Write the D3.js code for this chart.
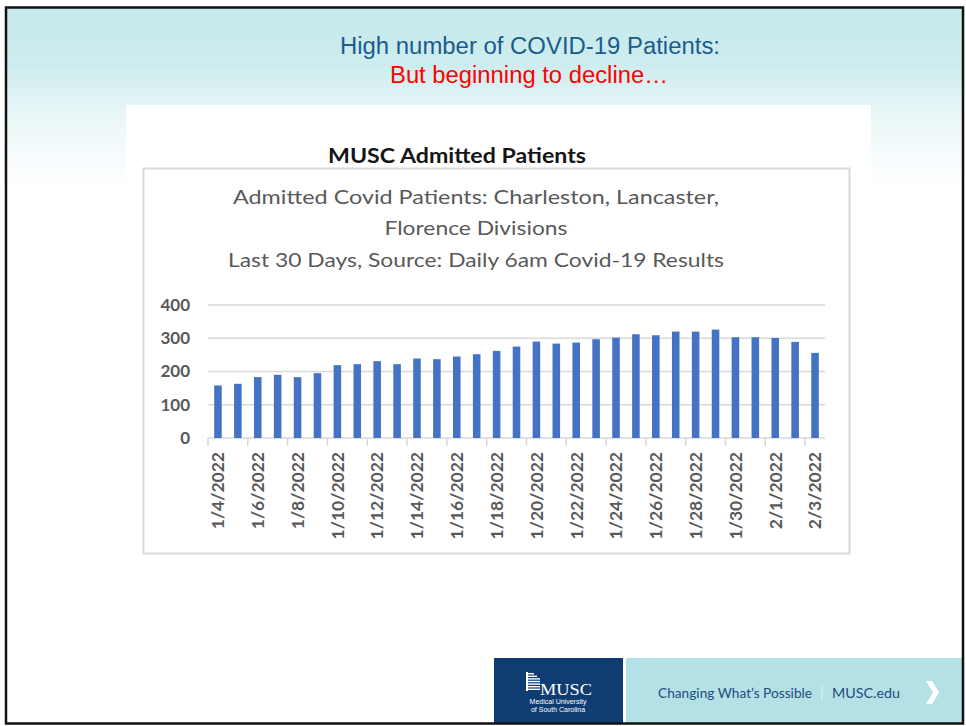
<!DOCTYPE html>
<html>
<head>
<meta charset="utf-8">
<script src="https://cdn.jsdelivr.net/npm/d3@7"></script>
<style>
  html, body { margin: 0; padding: 0; background: #ffffff; }
  svg { display: block; }
</style>
</head>
<body>
<svg id="chart" width="966" height="726"></svg>
<script>
// ---- data ----
const categories = ["1/4/2022","1/5/2022","1/6/2022","1/7/2022","1/8/2022","1/9/2022","1/10/2022","1/11/2022",
  "1/12/2022","1/13/2022","1/14/2022","1/15/2022","1/16/2022","1/17/2022","1/18/2022","1/19/2022","1/20/2022",
  "1/21/2022","1/22/2022","1/23/2022","1/24/2022","1/25/2022","1/26/2022","1/27/2022","1/28/2022","1/29/2022",
  "1/30/2022","1/31/2022","2/1/2022","2/2/2022","2/3/2022"];
const admitted = [158,163,183,190,183,195,219,222,231,222,239,237,245,252,262,275,290,284,287,297,302,312,309,320,320,326,303,303,301,289,256];
const yTicks = [0,100,200,300,400];
const xTickLabels = categories.filter((d,i) => i % 2 === 0);
const slideTitle = "High number of COVID-19 Patients:";
const slideSubtitle = "But beginning to decline\u2026";
const panelTitle = "MUSC Admitted Patients";
const chartTitle = ["Admitted Covid Patients: Charleston, Lancaster,", "Florence Divisions", "Last 30 Days, Source: Daily 6am Covid-19 Results"];

const svg = d3.select("#chart");
const defs = svg.append("defs");

// ---- slide background ----
const grad = defs.append("linearGradient").attr("id","bg").attr("gradientUnits","userSpaceOnUse")
  .attr("x1",0).attr("y1",8).attr("x2",0).attr("y2",190);
[[0,"#c6e9eb"],[0.3,"#cdecee"],[0.5,"#e0f3f5"],[0.62,"#eaf8f6"],[0.8,"#f6fbfd"],[1,"#ffffff"]]
  .forEach(s => grad.append("stop").attr("offset",s[0]).attr("stop-color",s[1]));
svg.append("rect").attr("x",7).attr("y",8).attr("width",956).attr("height",715).attr("fill","url(#bg)");

// slide titles
svg.append("text").attr("x",530).attr("y",54).attr("text-anchor","middle")
  .attr("font-family","Liberation Sans, Arial, sans-serif").attr("font-size",23).attr("fill","#1a5c8e")
  .attr("textLength",380).attr("lengthAdjust","spacingAndGlyphs").text(slideTitle);
svg.append("text").attr("x",529).attr("y",83).attr("text-anchor","middle")
  .attr("font-family","Liberation Sans, Arial, sans-serif").attr("font-size",23).attr("fill","#ff0000")
  .attr("textLength",278).attr("lengthAdjust","spacingAndGlyphs").text(slideSubtitle);

// white panel
svg.append("rect").attr("x",126).attr("y",105).attr("width",745).attr("height",480).attr("fill","#ffffff");

// panel title
svg.append("text").attr("x",457).attr("y",163).attr("text-anchor","middle")
  .attr("font-family","Lato, sans-serif").attr("font-weight","bold").attr("font-size",20).attr("fill","#141414")
  .attr("textLength",258).attr("lengthAdjust","spacingAndGlyphs").text(panelTitle);

// chart box
svg.append("rect").attr("x",143.5).attr("y",168.5).attr("width",706).attr("height",385)
  .attr("fill","#ffffff").attr("stroke","#d9d9d9").attr("stroke-width",2);

// chart title
const titleY = [204, 235, 267];
const titleW = [486, 183, 496];
chartTitle.forEach((t,i) => {
  svg.append("text").attr("x",476).attr("y",titleY[i]).attr("text-anchor","middle")
    .attr("font-family","Lato, sans-serif").attr("font-size",20).attr("fill","#595959")
    .attr("textLength",titleW[i]).attr("lengthAdjust","spacingAndGlyphs").text(t);
});

// ---- scales ----
const x = d3.scaleBand().domain(categories).range([208, 825]).paddingInner(0.62).paddingOuter(0.31);
const y = d3.scaleLinear().domain([0, 400]).range([438, 305]);

// gridlines
svg.append("g").selectAll("line").data(yTicks).join("line")
  .attr("x1",208).attr("x2",825).attr("y1",d => y(d)).attr("y2",d => y(d))
  .attr("stroke","#d9d9d9").attr("stroke-width",1.5);

// y labels
const yAxis = d3.axisLeft(y).tickValues(yTicks).tickSize(0).tickPadding(0);
const gy = svg.append("g").attr("transform","translate(190,0)").call(yAxis);
gy.select(".domain").remove();
gy.selectAll("text").attr("font-family","Lato, sans-serif").attr("font-size",17).attr("font-weight","bold")
  .attr("fill","#595959");

// bars
svg.append("g").selectAll("rect").data(admitted).join("rect")
  .attr("x",(d,i) => x(categories[i])).attr("width",x.bandwidth())
  .attr("y",d => y(d)).attr("height",d => y(0) - y(d)).attr("fill","#4472c4");

// x tick marks at band boundaries every 2 categories
const half = x.step() * x.paddingInner() / 2;
svg.append("g").selectAll("line").data(xTickLabels).join("line")
  .attr("x1",d => x(d) - half).attr("x2",d => x(d) - half)
  .attr("y1",438).attr("y2",446).attr("stroke","#d9d9d9").attr("stroke-width",1.5);

// x labels
const xAxis = d3.axisBottom(x).tickValues(xTickLabels).tickSize(0).tickPadding(0);
const gx = svg.append("g").attr("transform","translate(" + (x.bandwidth()/2 * 0) + ",452)").call(xAxis);
gx.select(".domain").remove();
gx.selectAll(".tick text")
  .attr("font-family","Lato, sans-serif").attr("font-size",17.5).attr("font-weight","bold").attr("fill","#595959")
  .attr("transform","rotate(-90)").attr("text-anchor","end").attr("x",0).attr("y",0).attr("dy","0.36em");

// ---- footer ----
svg.append("rect").attr("x",494).attr("y",658).attr("width",129).attr("height",65).attr("fill","#0f3c71");
svg.append("rect").attr("x",626).attr("y",658).attr("width",337).attr("height",65).attr("fill","#b3e1e6");

// logo building
const logo = svg.append("g").attr("fill","#ffffff");
for (let k = 0; k < 7; k++) {
  logo.append("rect").attr("x",526).attr("y",673 + k*2.6).attr("width",14 - (k<2 ? (2-k)*3 : 0)).attr("height",1.4);
}
logo.append("rect").attr("x",526).attr("y",672).attr("width",2).attr("height",19);
svg.append("text").attr("x",566).attr("y",695).attr("text-anchor","middle")
  .attr("font-family","Liberation Serif, Times New Roman, serif").attr("font-size",17).attr("fill","#ffffff")
  .attr("textLength",52).attr("lengthAdjust","spacingAndGlyphs").text("MUSC");
svg.append("text").attr("x",558).attr("y",704).attr("text-anchor","middle")
  .attr("font-family","Liberation Sans, Arial, sans-serif").attr("font-size",7).attr("fill","#ffffff")
  .text("Medical University");
svg.append("text").attr("x",558).attr("y",712).attr("text-anchor","middle")
  .attr("font-family","Liberation Sans, Arial, sans-serif").attr("font-size",7).attr("fill","#ffffff")
  .text("of South Carolina");

svg.append("text").attr("x",658).attr("y",698)
  .attr("font-family","Lato, sans-serif").attr("font-size",14).attr("fill","#1f4d7d")
  .attr("textLength",154).attr("lengthAdjust","spacingAndGlyphs").text("Changing What\u2019s Possible");
svg.append("line").attr("x1",822).attr("x2",822).attr("y1",686).attr("y2",700).attr("stroke","#e4f5f7").attr("stroke-width",1);
svg.append("text").attr("x",832).attr("y",698)
  .attr("font-family","Lato, sans-serif").attr("font-size",14).attr("fill","#1f4d7d")
  .attr("textLength",68).attr("lengthAdjust","spacingAndGlyphs").text("MUSC.edu");
svg.append("path").attr("d","M926,681 L932,681 L939,692.5 L932,704 L926,704 L933,692.5 Z").attr("fill","#ffffff");

// slide border
svg.append("rect").attr("x",6).attr("y",7.5).attr("width",957).attr("height",716)
  .attr("fill","none").attr("stroke","#111111").attr("stroke-width",2.5);
</script>
</body>
</html>
